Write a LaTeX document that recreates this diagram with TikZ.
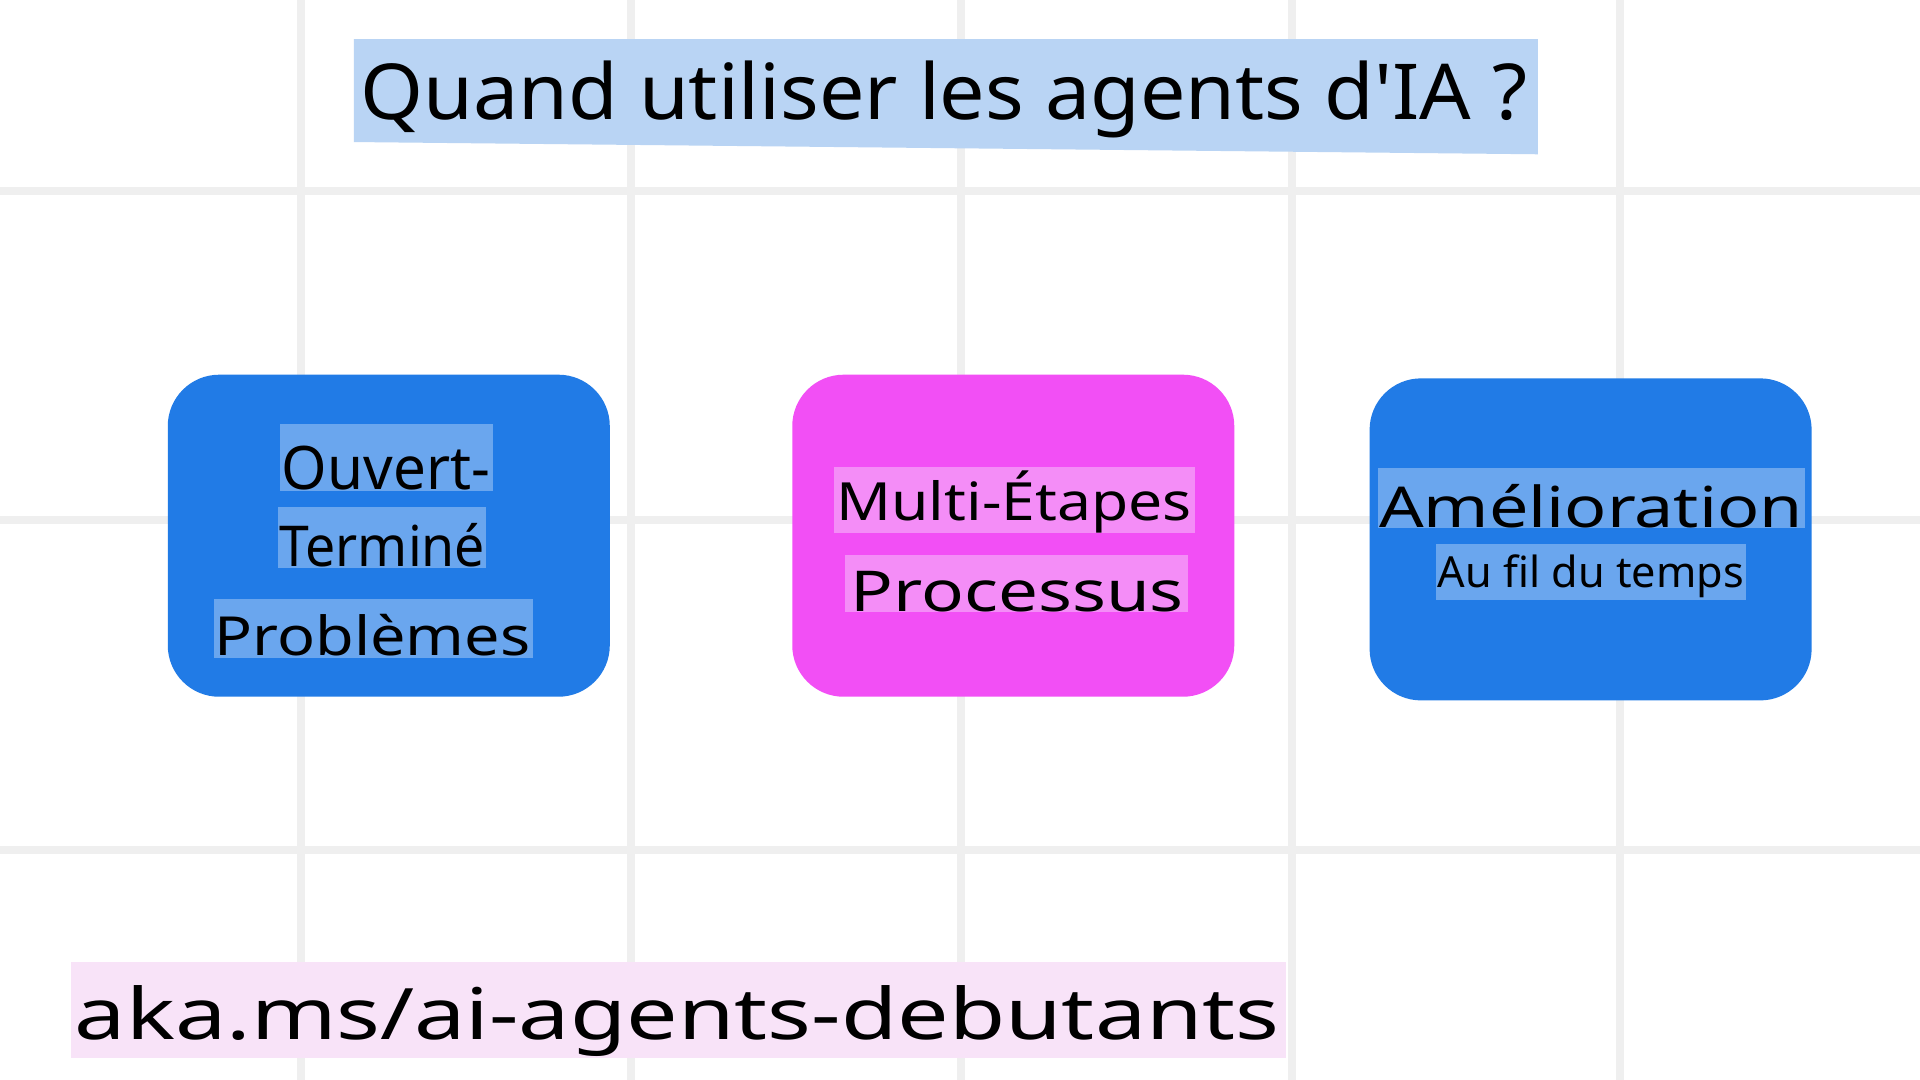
\documentclass[tikz,border=0pt]{standalone}
\usepackage{fontspec}
\setmainfont{Noto Sans}
\usepackage{graphicx}
\newlength\fitlen
\newcommand\fittext[3]{{\fontsize{#2}{#2}\selectfont\settowidth\fitlen{#3}\scalebox{\fpeval{(#1)/\fitlen}}[1]{#3}}}
\definecolor{gridgray}{HTML}{EFEFEF}
\definecolor{boxblue}{HTML}{217BE6}
\definecolor{boxpink}{HTML}{F24FF5}
\definecolor{hlblue}{HTML}{6AA6EE}
\definecolor{hlpink}{HTML}{F48DF7}
\definecolor{titlehl}{HTML}{B9D4F4}
\definecolor{foothl}{HTML}{F8E3F8}
\tikzset{
  gridline/.style={draw=gridgray, line width=6.5pt},
  card/.style={rounded corners=42pt, minimum width=361pt, minimum height=263pt, inner sep=0pt},
  lbl/.style={anchor=base west, inner sep=0pt, text=black},
}
\begin{document}
\begin{tikzpicture}[x=1pt,y=-1pt]
\useasboundingbox (0,0) rectangle (1568,882);
\fill[white] (0,0) rectangle (1568,882);
% grid
\foreach \gx in {246,515,785,1055,1323} \draw[gridline] (\gx,0) -- (\gx,882);
\foreach \gy in {156,425,694} \draw[gridline] (0,\gy) -- (1568,\gy);
% title
\fill[titlehl] (289,32) -- (1256,32) -- (1256,126) -- (289,116) -- cycle;
\node[lbl] (title) at (294,98) {\fittext{953}{63}{Quand utiliser les agents d\textquotesingle IA ?}};
% cards
\node[card, fill=boxblue] (c1) at (317.5,437.5) {};
\node[card, fill=boxpink] (c2) at (827.5,437.5) {};
\node[card, fill=boxblue] (c3) at (1299,440.5) {};
% card 1
\fill[hlblue] (229,346) rectangle (403,401);
\fill[hlblue] (227,414) rectangle (397,464);
\fill[hlblue] (175,489) rectangle (435,537);
\node[lbl] (c1a) at (230,400) {\fittext{170}{49}{Ouvert-}};
\node[lbl] (c1b) at (228,463) {\fittext{168}{46}{Terminé}};
\node[lbl] (c1c) at (175,535) {\fittext{258}{44}{Problèmes}};
% card 2
\fill[hlpink] (681,381) rectangle (976,435);
\fill[hlpink] (690,453) rectangle (970,500);
\node[lbl] (c2a) at (683,425.3) {\fittext{290}{43}{Multi-Étapes}};
\node[lbl] (c2b) at (694.5,499.6) {\fittext{272}{46}{Processus}};
% card 3
\fill[hlblue] (1125,382) rectangle (1474,431);
\fill[hlblue] (1173,444) rectangle (1426,490);
\node[lbl] (c3a) at (1126,431) {\fittext{346}{46}{Amélioration}};
\node[lbl] (c3b) at (1174,480) {\fittext{250}{35}{Au fil du temps}};
% footer
\fill[foothl] (58,786) rectangle (1050,864);
\node[lbl] (foot) at (61,848.6) {\fittext{984}{58}{aka.ms/ai-agents-debutants}};
\end{tikzpicture}
\end{document}
